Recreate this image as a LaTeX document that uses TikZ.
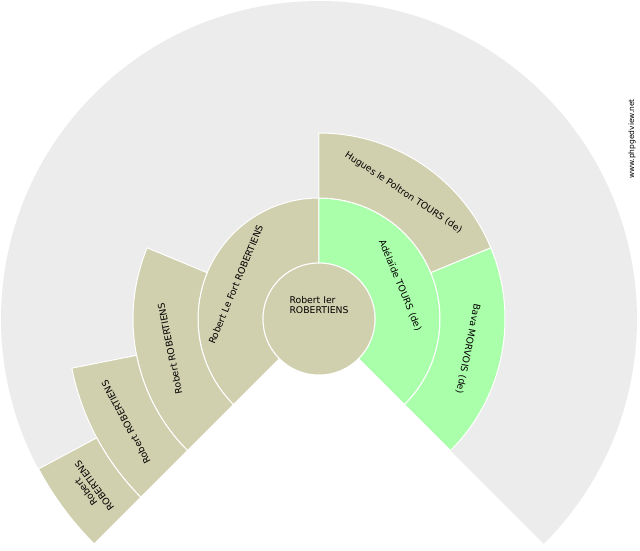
\documentclass[tikz,border=0pt]{standalone}
\usepackage{fontspec}
\setmainfont{DejaVu Sans}
\begin{document}
\begin{tikzpicture}[x=1pt,y=1pt,
  lbl/.style={font=\fontsize{9.3}{10.5}\selectfont, align=center, text=black, inner sep=0pt},
  tan/.style={fill={rgb,255:red,208;green,207;blue,174}, draw=white, line width=1pt},
  grn/.style={fill={rgb,255:red,170;green,255;blue,170}, draw=white, line width=1pt}]
\useasboundingbox (-319,-231) rectangle (321,319);
\clip (-319,-231) rectangle (321,319);
\newcommand\sect[5]{\path[#5] (#1:#3) -- (#1:#4) arc[start angle=#1,end angle=#2,radius=#4] -- (#2:#3) arc[start angle=#2,end angle=#1,radius=#3] -- cycle;}
\fill[fill={rgb,255:red,236;green,236;blue,236}] (0,0) -- (-45:318) arc[start angle=-45,end angle=225,radius=318] -- cycle;
\sect{90}{225}{56}{121}{tan}
\sect{-45}{90}{56}{121}{grn}
\sect{22.5}{90}{121}{186}{tan}
\sect{-45}{22.5}{121}{186}{grn}
\sect{157.5}{225}{121}{186}{tan}
\sect{191.25}{225}{186}{252}{tan}
\sect{208.125}{225}{252}{318}{tan}
\path[tan] (0,0) circle (56);
\node[lbl,align=left] (c) at (0,14) {Robert Ier\\ROBERTIENS};
\node[lbl,rotate=-67.5] (a) at (22.5:88) {Adélaïde TOURS (de)};
\node[lbl,rotate=67.5] (f) at (157.5:90) {Robert Le Fort ROBERTIENS};
\node[lbl,rotate=-33.75] (h) at (56.25:152) {Hugues le Poltron TOURS (de)};
\node[lbl,rotate=-101.25] (b) at (-11.25:152) {Bava MORVOIS (de)};
\node[lbl,rotate=101.25] (r2) at (191.25:152) {Robert ROBERTIENS};
\node[lbl,rotate=118.125] (r3) at (208.125:219) {Robert ROBERTIENS};
\node[lbl,rotate=126.56] (r4) at (216.56:285) {Robert\\ROBERTIENS};
\node[font=\fontsize{7.5}{8}\selectfont, rotate=90, inner sep=0pt] (w) at (313,180) {www.phpgedview.net};
\end{tikzpicture}
\end{document}
